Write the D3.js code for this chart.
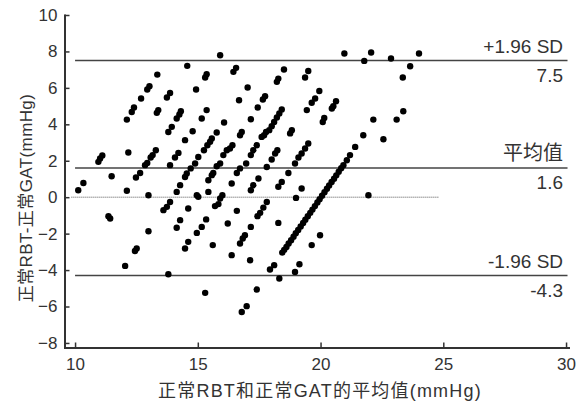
<!DOCTYPE html>
<html>
<head>
<meta charset="utf-8">
<script src="https://cdn.jsdelivr.net/npm/d3@7/dist/d3.min.js"></script>
<style>
  html, body { margin: 0; padding: 0; background: #fff; }
  svg { display: block; }
</style>
</head>
<body>
<script>
// Tick values of both axes
const xTicks = [10, 15, 20, 25, 30];
const yTicks = [-8, -6, -4, -2, 0, 2, 4, 6, 8, 10];

// Limits of agreement and mean difference
const limitValues = [7.5, 1.6, -4.3];
const limitNames = ["+1.96 SD", "平均值", "-1.96 SD"];
const limitTexts = ["7.5", "1.6", "-4.3"];

// Extent of the dotted zero-difference line (mean, mmHg)
const zeroLineSpan = [9.85, 24.8];

// Each eye: [mean of RBT and GAT, RBT - GAT], mmHg
const points = [
  [10.13,0.38],[10.34,0.78],[10.95,1.94],[11.02,2.12],[11.11,2.29],[11.49,1.15],[12.17,2.45],[12.11,0.35],[11.36,-1.04],[11.43,-1.17],
  [12.11,4.26],[12.31,4.68],[12.40,4.92],[12.69,5.42],[12.94,5.91],[13.03,6.09],[13.35,6.73],
  [12.48,1.08],[12.65,1.33],[12.85,1.76],[12.94,1.88],[13.08,2.18],[13.16,2.31],[13.29,2.58],
  [12.99,0.11],[12.99,-1.87],[12.51,-2.82],[12.44,-2.95],[12.04,-3.77],[13.80,-4.23],
  [13.74,5.47],[13.87,5.72],[13.33,4.63],[13.39,4.78],[14.14,4.32],[14.25,4.54],[14.31,4.72],[13.80,3.58],[13.94,3.86],
  [14.57,7.21],[14.93,5.91],[15.30,6.57],[15.36,6.75],[15.91,7.79],
  [14.79,3.62],[15.16,4.32],[15.36,4.78],[14.48,3.13],[15.77,3.55],[16.07,4.10],[15.57,3.22],
  [16.45,6.88],[16.56,7.10],[17.03,6.02],[16.68,5.32],[17.16,4.28],[17.44,4.92],[17.65,5.36],[17.74,5.54],[16.79,3.58],[16.72,3.40],
  [18.51,7.01],[18.28,6.51],[18.22,6.33],[19.50,6.93],[19.37,6.57],[19.95,5.83],[19.78,5.42],[19.64,5.18],[19.44,4.78],
  [20.63,5.27],[20.52,4.99],[20.46,4.87],[20.15,4.35],[20.09,4.13],
  [18.42,4.81],[18.32,4.59],[18.22,4.37],[18.11,4.13],[18.01,3.90],[17.91,3.68],[17.78,3.58],[17.60,3.31],[18.83,3.68],[18.76,3.50],
  [20.97,7.89],[21.78,7.48],[22.06,7.94],[22.87,7.61],[22.15,4.26],[23.10,4.26],[21.74,3.40],[23.35,6.57],[24.01,7.89],[23.65,7.19],[23.37,4.72],[22.56,3.18],
  [13.87,1.76],[14.07,2.18],[14.21,2.43],[14.14,0.29],[14.28,0.66],[14.48,1.11],[14.55,1.30],[14.71,1.58],[14.89,1.85],[15.02,2.21],[15.25,2.58],[15.39,2.85],[15.50,3.04],
  [13.87,-0.26],[13.74,-0.53],[13.60,-0.71],[14.61,-0.62],[14.96,0.11],[15.02,0.02],[14.28,-1.26],[14.14,-1.68],[14.96,-1.96],[15.16,-1.63],[15.34,-1.22],[14.61,-2.45],[14.48,-2.82],[15.61,-2.63],
  [15.43,0.29],[15.43,0.93],[15.57,1.21],[15.70,-0.49],[15.91,-0.07],[16.00,0.11],[16.04,2.31],[16.18,2.58],[16.41,2.85],[16.31,2.67],
  [16.59,-0.75],[16.22,-1.44],[16.38,-3.18],[16.72,-2.54],[16.83,-2.27],[16.92,-2.09],[17.16,-1.63],
  [17.16,0.38],[17.26,0.66],[17.47,1.03],[16.38,0.75],[16.59,1.33],[16.72,1.58],[16.97,1.85],[17.16,2.31],[17.26,2.58],[17.40,2.85],
  [17.13,-3.46],
  [15.91,1.85],[15.77,1.70],[15.63,1.33],[17.70,3.40],
  [19.50,2.95],[19.37,2.67],[19.23,2.40],[19.10,2.18],[18.96,1.85],[18.69,1.33],[18.42,0.84],[18.28,0.57],
  [18.24,2.58],[18.15,2.40],[18.01,2.07],[17.81,1.66],
  [19.23,0.48],[19.00,-0.04],
  [21.41,2.76],[21.20,2.31],[21.07,2.03],[21.95,0.11],
  [15.84,-0.38],[17.81,-0.26],[17.67,-0.57],[17.54,-0.86],[17.43,-1.04],[18.28,-1.41],
  [19.98,-2.09],[19.64,-2.63],
  [17.40,-5.07],[16.79,-6.30],[16.99,-5.98],[17.94,-3.97],[18.11,-3.73],[18.32,-4.46],[18.96,-4.10],[19.14,-3.68],[15.30,-5.25],
  // the crowded run of eyes with GAT = 20 mmHg
  [20.93,1.76],[20.84,1.59],[20.74,1.40],[20.64,1.20],[20.55,1.01],[20.45,0.83],[20.35,0.64],[20.26,0.46],[20.16,0.27],
  [20.06,0.08],[19.96,-0.11],[19.87,-0.29],[19.77,-0.49],[19.67,-0.68],[19.58,-0.86],[19.48,-1.05],[19.38,-1.24],
  [19.29,-1.42],[19.19,-1.61],[19.09,-1.80],[18.99,-1.98],[18.90,-2.17],[18.80,-2.36],[18.70,-2.54],[18.61,-2.73],
  [18.52,-2.89],[18.44,-3.04]
];

const W = 581, H = 403;
const FONT = '"Liberation Sans", Arial, "Noto Sans CJK SC", sans-serif';
const INK = "#333";

const x = d3.scaleLinear([9.57, 30.1], [64.5, 568.5]);
const y = d3.scaleLinear([-8.25, 10], [347.5, 15]);

const svg = d3.select("body").append("svg")
  .attr("width", W).attr("height", H)
  .style("background", "#fff");

// zero-difference reference
svg.append("line")
  .attr("x1", x(zeroLineSpan[0])).attr("x2", x(zeroLineSpan[1]))
  .attr("y1", y(0)).attr("y2", y(0))
  .attr("stroke", "#555").attr("stroke-width", 1)
  .attr("stroke-dasharray", "1,1");

// mean and limits of agreement
svg.selectAll("line.limit").data(limitValues).join("line")
  .attr("class", "limit")
  .attr("x1", x(10)).attr("x2", x(30.06))
  .attr("y1", d => y(d)).attr("y2", d => y(d))
  .attr("stroke", "#444").attr("stroke-width", 1.6);

// scatter
svg.append("g").selectAll("circle").data(points).join("circle")
  .attr("cx", d => x(d[0])).attr("cy", d => y(d[1]))
  .attr("r", 3.2).attr("fill", "#000");

// labels on the reference lines
const labelX = x(30) - 3;
svg.selectAll("text.limName").data(limitValues).join("text")
  .attr("class", "limName")
  .attr("x", labelX).attr("y", d => y(d) - 8)
  .attr("text-anchor", "end")
  .attr("font-family", FONT)
  .attr("font-size", (d, i) => i === 1 ? 20 : 19)
  .attr("fill", INK)
  .text((d, i) => limitNames[i]);
svg.selectAll("text.limVal").data(limitValues).join("text")
  .attr("class", "limVal")
  .attr("x", labelX).attr("y", d => y(d) + 21)
  .attr("text-anchor", "end")
  .attr("font-family", FONT).attr("font-size", 19)
  .attr("fill", INK)
  .text((d, i) => limitTexts[i]);

// axes
function styleAxis(g) {
  g.select(".domain").attr("stroke", INK).attr("stroke-width", 2).attr("stroke-linecap", "square");
  g.selectAll(".tick line").attr("stroke", INK).attr("stroke-width", 1.5);
  g.selectAll(".tick text").attr("fill", INK).attr("font-size", 17).attr("font-family", FONT);
}
svg.append("g")
  .attr("transform", `translate(${x.range()[0]},0)`)
  .call(d3.axisLeft(y).tickValues(yTicks).tickSizeInner(-5).tickSizeOuter(0).tickPadding(7))
  .call(styleAxis);
svg.append("g")
  .attr("transform", `translate(0,${y.range()[0]})`)
  .call(d3.axisBottom(x).tickValues(xTicks).tickSizeInner(-5).tickSizeOuter(0).tickPadding(10))
  .call(styleAxis);

// axis titles
svg.append("text")
  .attr("x", 320).attr("y", 397)
  .attr("text-anchor", "middle")
  .attr("font-family", FONT).attr("font-size", 18)
  .attr("letter-spacing", 1.2)
  .attr("fill", INK)
  .text("正常RBT和正常GAT的平均值(mmHg)");
svg.append("text")
  .attr("transform", "translate(26,198) rotate(-90)")
  .attr("dy", "0.35em")
  .attr("text-anchor", "middle")
  .attr("font-family", FONT).attr("font-size", 17)
  .attr("letter-spacing", 0.4)
  .attr("fill", INK)
  .text("正常RBT-正常GAT(mmHg)");
</script>
</body>
</html>
